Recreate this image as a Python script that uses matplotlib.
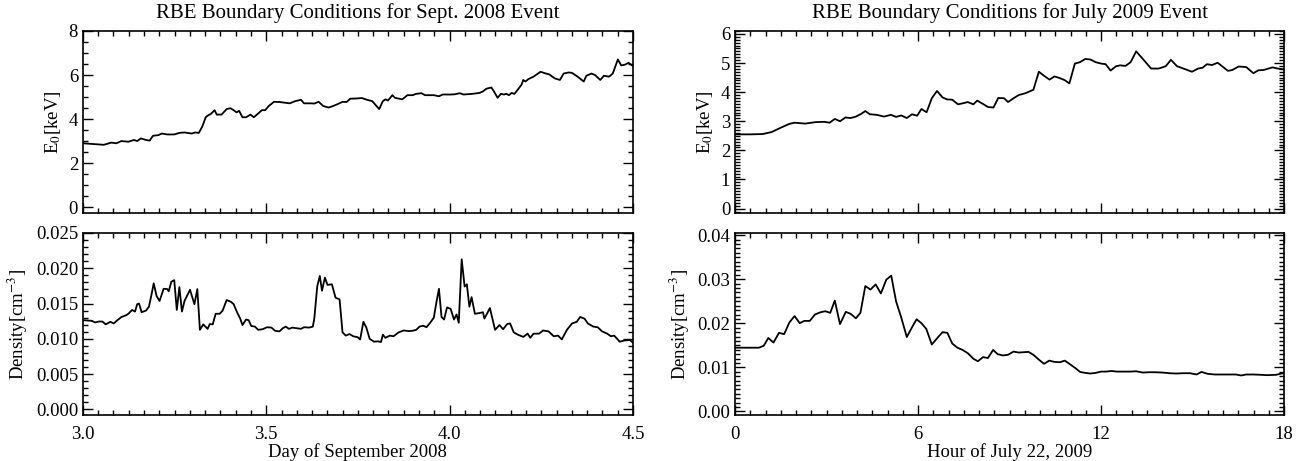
import numpy as np
import matplotlib
matplotlib.use("Agg")
import matplotlib.pyplot as plt
from matplotlib.ticker import MultipleLocator, FormatStrFormatter

plt.rcParams['font.family'] = ['Liberation Serif', 'DejaVu Serif']
plt.rcParams['mathtext.fontset'] = 'stix'

# Sept. 2008 event, day of month
sep_e0_day = [3.000, 3.057, 3.077, 3.091, 3.105, 3.124, 3.139, 3.148, 3.158, 3.172,
              3.182, 3.191, 3.206, 3.215, 3.230, 3.249, 3.263, 3.277, 3.297, 3.306,
              3.316, 3.325, 3.335, 3.340, 3.349, 3.359, 3.365, 3.378, 3.392, 3.402,
              3.411, 3.419, 3.426, 3.435, 3.445, 3.457, 3.466, 3.478, 3.488, 3.497,
              3.507, 3.521, 3.536, 3.550, 3.564, 3.579, 3.595, 3.603, 3.622, 3.631,
              3.643, 3.655, 3.670, 3.681, 3.694, 3.708, 3.719, 3.729, 3.746, 3.761,
              3.775, 3.789, 3.799, 3.808, 3.818, 3.825, 3.832, 3.844, 3.851, 3.871,
              3.885, 3.899, 3.909, 3.923, 3.933, 3.957, 3.971, 3.981, 4.004, 4.014,
              4.028, 4.038, 4.062, 4.081, 4.091, 4.100, 4.114, 4.121, 4.131, 4.140,
              4.148, 4.155, 4.162, 4.169, 4.177, 4.186, 4.196, 4.201, 4.207, 4.215,
              4.229, 4.248, 4.263, 4.272, 4.287, 4.301, 4.311, 4.325, 4.334, 4.349,
              4.366, 4.373, 4.387, 4.397, 4.411, 4.421, 4.435, 4.445, 4.459, 4.468,
              4.478, 4.488, 4.500]
sep_e0 = [2.91, 2.84, 2.94, 2.91, 3.01, 2.98, 3.06, 3.01, 3.13, 3.06,
          3.03, 3.25, 3.28, 3.35, 3.31, 3.31, 3.38, 3.40, 3.35, 3.40,
          3.38, 3.65, 4.09, 4.16, 4.24, 4.41, 4.21, 4.21, 4.46, 4.50,
          4.41, 4.31, 4.38, 4.09, 4.09, 4.21, 4.09, 4.26, 4.41, 4.41,
          4.60, 4.79, 4.78, 4.75, 4.72, 4.82, 4.88, 4.72, 4.72, 4.71,
          4.79, 4.60, 4.53, 4.59, 4.68, 4.79, 4.78, 4.93, 4.94, 4.96,
          4.88, 4.82, 4.63, 4.46, 4.82, 4.90, 4.85, 5.09, 4.97, 4.90,
          5.09, 5.09, 5.15, 5.18, 5.09, 5.09, 5.04, 5.12, 5.12, 5.13,
          5.18, 5.12, 5.15, 5.19, 5.26, 5.38, 5.44, 5.26, 4.97, 5.15,
          5.12, 5.15, 5.09, 5.19, 5.15, 5.34, 5.56, 5.78, 5.71, 5.82,
          5.93, 6.15, 6.07, 6.03, 5.85, 5.78, 6.07, 6.12, 6.10, 5.93,
          5.71, 5.97, 6.07, 6.00, 5.78, 5.97, 5.93, 6.07, 6.71, 6.44,
          6.47, 6.56, 6.41]

sep_n_day = [3.000, 3.024, 3.033, 3.043, 3.053, 3.062, 3.075, 3.084, 3.094, 3.105,
             3.117, 3.124, 3.134, 3.142, 3.148, 3.153, 3.160, 3.172, 3.180, 3.187,
             3.193, 3.201, 3.209, 3.220, 3.230, 3.234, 3.241, 3.249, 3.256, 3.263,
             3.270, 3.277, 3.292, 3.304, 3.312, 3.319, 3.328, 3.340, 3.346, 3.354,
             3.362, 3.373, 3.381, 3.392, 3.404, 3.411, 3.421, 3.429, 3.435, 3.445,
             3.452, 3.459, 3.469, 3.478, 3.490, 3.502, 3.514, 3.524, 3.536, 3.545,
             3.553, 3.562, 3.571, 3.584, 3.595, 3.603, 3.617, 3.627, 3.631, 3.639,
             3.646, 3.652, 3.660, 3.667, 3.679, 3.689, 3.700, 3.708, 3.717, 3.727,
             3.737, 3.749, 3.756, 3.765, 3.773, 3.782, 3.794, 3.804, 3.813, 3.818,
             3.825, 3.837, 3.847, 3.861, 3.875, 3.890, 3.899, 3.909, 3.918, 3.928,
             3.937, 3.947, 3.957, 3.964, 3.971, 3.978, 3.985, 3.993, 4.003, 4.012,
             4.019, 4.025, 4.033, 4.041, 4.047, 4.054, 4.060, 4.069, 4.081, 4.091,
             4.095, 4.110, 4.124, 4.136, 4.146, 4.157, 4.165, 4.175, 4.186, 4.201,
             4.213, 4.220, 4.229, 4.244, 4.255, 4.270, 4.284, 4.296, 4.306, 4.320,
             4.334, 4.347, 4.356, 4.368, 4.377, 4.392, 4.404, 4.416, 4.430, 4.440,
             4.449, 4.464, 4.478, 4.492, 4.500]
sep_n = [0.01264, 0.01255, 0.01232, 0.01245, 0.01245, 0.01205, 0.01241, 0.01218, 0.01264, 0.01309,
         0.01332, 0.01355, 0.01409, 0.01386, 0.01491, 0.01500, 0.01377, 0.01400, 0.01455, 0.01627,
         0.01786, 0.01605, 0.01536, 0.01709, 0.01705, 0.01673, 0.01809, 0.01832, 0.01409, 0.01732,
         0.01386, 0.01536, 0.01695, 0.01491, 0.01705, 0.01127, 0.01205, 0.01141, 0.01209, 0.01205,
         0.01355, 0.01355, 0.01400, 0.01550, 0.01523, 0.01491, 0.01368, 0.01286, 0.01195, 0.01273,
         0.01264, 0.01182, 0.01173, 0.01127, 0.01136, 0.01164, 0.01159, 0.01114, 0.01105, 0.01150,
         0.01173, 0.01141, 0.01159, 0.01150, 0.01141, 0.01164, 0.01159, 0.01173, 0.01286, 0.01741,
         0.01891, 0.01682, 0.01868, 0.01764, 0.01773, 0.01582, 0.01559, 0.01091, 0.01045, 0.01068,
         0.01036, 0.01023, 0.00991, 0.01241, 0.01159, 0.01000, 0.00959, 0.00964, 0.00955, 0.01059,
         0.01014, 0.01045, 0.01036, 0.01091, 0.01118, 0.01109, 0.01114, 0.01127, 0.01173, 0.01186,
         0.01164, 0.01227, 0.01300, 0.01514, 0.01709, 0.01309, 0.01273, 0.01445, 0.01423, 0.01273,
         0.01345, 0.01227, 0.02127, 0.01741, 0.01773, 0.01455, 0.01591, 0.01355, 0.01364, 0.01377,
         0.01286, 0.01436, 0.01127, 0.01195, 0.01136, 0.01209, 0.01218, 0.01091, 0.01059, 0.01027,
         0.01073, 0.01014, 0.01073, 0.01073, 0.01118, 0.01105, 0.01036, 0.01045, 0.00991, 0.01127,
         0.01218, 0.01241, 0.01309, 0.01286, 0.01218, 0.01173, 0.01164, 0.01105, 0.01073, 0.01036,
         0.01045, 0.00959, 0.00977, 0.00982, 0.00945]

# July 2009 event, hour of July 22
jul_e0_hr = [0.00, 0.50, 0.90, 1.20, 1.50, 1.78, 1.95, 2.30, 2.64, 2.93,
             3.10, 3.27, 3.44, 3.62, 3.79, 3.96, 4.13, 4.27, 4.42, 4.65,
             4.88, 5.11, 5.28, 5.45, 5.63, 5.80, 5.97, 6.11, 6.28, 6.45,
             6.62, 6.80, 6.95, 7.12, 7.31, 7.52, 7.63, 7.81, 7.94, 8.15,
             8.29, 8.47, 8.63, 8.82, 8.95, 9.13, 9.30, 9.51, 9.78, 9.96,
             10.13, 10.31, 10.47, 10.65, 10.81, 10.96, 11.14, 11.31, 11.48, 11.65,
             11.82, 12.00, 12.15, 12.31, 12.49, 12.63, 12.80, 12.97, 13.15, 13.41,
             13.64, 13.89, 14.12, 14.29, 14.49, 14.75, 14.98, 15.18, 15.33, 15.47,
             15.64, 15.82, 15.99, 16.16, 16.30, 16.51, 16.76, 16.99, 17.16, 17.33,
             17.62, 17.79, 18.00]
jul_e0 = [2.55, 2.55, 2.56, 2.63, 2.78, 2.91, 2.95, 2.92, 2.97, 2.98,
          2.95, 3.08, 3.00, 3.13, 3.11, 3.16, 3.25, 3.35, 3.24, 3.22,
          3.16, 3.22, 3.15, 3.20, 3.11, 3.24, 3.19, 3.42, 3.31, 3.79,
          4.04, 3.82, 3.75, 3.74, 3.58, 3.63, 3.66, 3.58, 3.71, 3.58,
          3.49, 3.47, 3.80, 3.79, 3.66, 3.79, 3.90, 3.96, 4.08, 4.70,
          4.56, 4.43, 4.54, 4.48, 4.41, 4.30, 4.98, 5.03, 5.14, 5.12,
          5.03, 4.98, 4.96, 4.74, 4.89, 4.92, 4.90, 5.03, 5.40, 5.09,
          4.81, 4.81, 4.89, 5.11, 4.89, 4.79, 4.70, 4.81, 4.84, 4.96,
          4.93, 5.01, 4.87, 4.73, 4.76, 4.88, 4.86, 4.65, 4.75, 4.76,
          4.85, 4.81, 4.78]

jul_n_hr = [0.00, 0.78, 0.94, 1.09, 1.26, 1.44, 1.61, 1.78, 1.95, 2.12,
            2.27, 2.45, 2.62, 2.81, 2.96, 3.12, 3.27, 3.44, 3.63, 3.79,
            3.96, 4.11, 4.27, 4.44, 4.61, 4.78, 4.96, 5.12, 5.28, 5.45,
            5.63, 5.80, 5.95, 6.11, 6.27, 6.45, 6.64, 6.80, 6.96, 7.12,
            7.29, 7.46, 7.63, 7.81, 7.96, 8.13, 8.29, 8.46, 8.61, 8.78,
            8.95, 9.13, 9.30, 9.44, 9.62, 9.78, 9.96, 10.13, 10.30, 10.47,
            10.65, 10.81, 10.99, 11.14, 11.31, 11.48, 11.65, 11.82, 12.00, 12.17,
            12.34, 12.51, 12.74, 12.97, 13.15, 13.37, 13.55, 13.78, 14.01, 14.24,
            14.46, 14.69, 14.92, 15.13, 15.29, 15.50, 15.73, 15.96, 16.19, 16.42,
            16.59, 16.76, 16.99, 17.22, 17.45, 17.74, 17.91, 18.00]
jul_n = [0.01447, 0.01447, 0.01491, 0.01667, 0.01564, 0.01784, 0.01755, 0.02018, 0.02165, 0.02004,
         0.02055, 0.02055, 0.02201, 0.02253, 0.02275, 0.02238, 0.02516, 0.01982, 0.02260, 0.02216,
         0.02114, 0.02238, 0.02846, 0.02766, 0.02883, 0.02678, 0.02993, 0.03081, 0.02495, 0.02128,
         0.01689, 0.01908, 0.02092, 0.02004, 0.01872, 0.01520, 0.01674, 0.01799, 0.01784, 0.01542,
         0.01447, 0.01396, 0.01322, 0.01198, 0.01139, 0.01234, 0.01212, 0.01396, 0.01300, 0.01271,
         0.01286, 0.01359, 0.01337, 0.01344, 0.01352, 0.01286, 0.01176, 0.01081, 0.01154, 0.01125,
         0.01117, 0.01154, 0.01066, 0.00993, 0.00897, 0.00875, 0.00861, 0.00875, 0.00905, 0.00905,
         0.00919, 0.00905, 0.00905, 0.00905, 0.00912, 0.00883, 0.00890, 0.00890, 0.00883, 0.00868,
         0.00861, 0.00868, 0.00868, 0.00839, 0.00897, 0.00853, 0.00839, 0.00839, 0.00839, 0.00839,
         0.00817, 0.00839, 0.00839, 0.00832, 0.00824, 0.00832, 0.00861, 0.00868]

FS = 13.5
fig = plt.figure(figsize=(12.98, 4.61), dpi=100)
ax_tl = fig.add_axes([0.0639, 0.5380, 0.4237, 0.3948])
ax_bl = fig.add_axes([0.0639, 0.0998, 0.4237, 0.3948])
ax_tr = fig.add_axes([0.5663, 0.5380, 0.4230, 0.3948])
ax_br = fig.add_axes([0.5663, 0.0998, 0.4230, 0.3948])


def style(ax):
    ax.tick_params(which='both', direction='in', top=True, right=True,
                   labelsize=FS, width=1.0)
    ax.tick_params(which='major', length=7)
    ax.tick_params(which='minor', length=3.5)
    ax.tick_params(axis='x', pad=8)
    for sp in ax.spines.values():
        sp.set_linewidth(1.2)


ax_tl.plot(sep_e0_day, sep_e0, color='black', lw=1.3)
ax_tl.set_xlim(3.0, 4.5)
ax_tl.set_ylim(-0.25, 8)
ax_tl.yaxis.set_major_locator(MultipleLocator(2))
ax_tl.yaxis.set_minor_locator(MultipleLocator(0.5))
ax_tl.xaxis.set_major_locator(MultipleLocator(0.5))
ax_tl.xaxis.set_minor_locator(MultipleLocator(1 / 24))
ax_tl.set_xticklabels([])
ax_tl.set_ylabel('E$_0$[keV]', fontsize=FS)
ax_tl.set_title('RBE Boundary Conditions for Sept. 2008 Event', fontsize=15, pad=9)
style(ax_tl)

ax_bl.plot(sep_n_day, sep_n, color='black', lw=1.3)
ax_bl.set_xlim(3.0, 4.5)
ax_bl.set_ylim(-0.0008, 0.025)
ax_bl.yaxis.set_major_locator(MultipleLocator(0.005))
ax_bl.yaxis.set_minor_locator(MultipleLocator(0.001))
ax_bl.yaxis.set_major_formatter(FormatStrFormatter('%.3f'))
ax_bl.xaxis.set_major_locator(MultipleLocator(0.5))
ax_bl.xaxis.set_minor_locator(MultipleLocator(1 / 24))
ax_bl.xaxis.set_major_formatter(FormatStrFormatter('%.1f'))
ax_bl.set_ylabel('Density[cm$^{-3}$]', fontsize=FS)
ax_bl.set_xlabel('Day of September 2008', fontsize=FS, labelpad=0)
style(ax_bl)

ax_tr.plot(jul_e0_hr, jul_e0, color='black', lw=1.3)
ax_tr.set_xlim(0, 18)
ax_tr.set_ylim(-0.15, 6.1)
ax_tr.yaxis.set_major_locator(MultipleLocator(1))
ax_tr.yaxis.set_minor_locator(MultipleLocator(0.1))
ax_tr.xaxis.set_major_locator(MultipleLocator(6))
ax_tr.xaxis.set_minor_locator(MultipleLocator(0.5))
ax_tr.set_xticklabels([])
ax_tr.set_ylabel('E$_0$[keV]', fontsize=FS)
ax_tr.set_title('RBE Boundary Conditions for July 2009 Event', fontsize=15, pad=9)
style(ax_tr)

ax_br.plot(jul_n_hr, jul_n, color='black', lw=1.3)
ax_br.set_xlim(0, 18)
ax_br.set_ylim(-0.0008, 0.0405)
ax_br.yaxis.set_major_locator(MultipleLocator(0.01))
ax_br.yaxis.set_minor_locator(MultipleLocator(0.001))
ax_br.yaxis.set_major_formatter(FormatStrFormatter('%.2f'))
ax_br.xaxis.set_major_locator(MultipleLocator(6))
ax_br.xaxis.set_minor_locator(MultipleLocator(0.5))
ax_br.set_ylabel('Density[cm$^{-3}$]', fontsize=FS)
ax_br.set_xlabel('Hour of July 22, 2009', fontsize=FS, labelpad=0)
style(ax_br)

fig.savefig('out.png', dpi=100)
